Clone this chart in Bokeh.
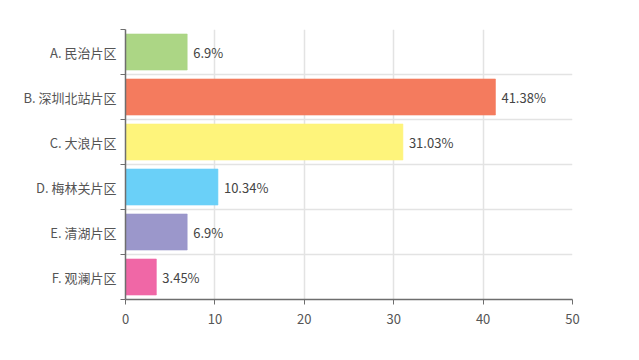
from bokeh.plotting import figure
from bokeh.models import ColumnDataSource, FixedTicker, Range1d
from bokeh.core.properties import value
from bokeh.embed import file_html
from bokeh.resources import INLINE

categories = ["A. 民治片区", "B. 深圳北站片区", "C. 大浪片区", "D. 梅林关片区", "E. 清湖片区", "F. 观澜片区"]
values = [6.9, 41.38, 31.03, 10.34, 6.9, 3.45]
colors = ["#acd685", "#f47b5e", "#fef47b", "#6ad0f8", "#9b97cb", "#f067a6"]
x_ticks = [0, 10, 20, 30, 40, 50]

n = len(categories)
ypos = list(range(n))
labels = [f"{v:g}%" for v in values]

src = ColumnDataSource(dict(y=ypos, v=values, c=colors, lab=labels))

FONT = "Noto Sans CJK SC"

p = figure(width=630, height=350, output_backend="svg", toolbar_location=None,
           x_range=Range1d(0, 50), y_range=Range1d(n - 0.5, -0.5),
           min_border_left=125, min_border_right=58, min_border_top=29, min_border_bottom=51)
p.outline_line_color = None
p.background_fill_color = "white"

p.hbar(y="y", right="v", left=0, height=0.8, fill_color="c", line_color="c",
       line_alpha=0.6, line_width=1, source=src)
p.text(x="v", y="y", text="lab", source=src, x_offset=6, text_baseline="middle",
       text_align="left", text_font=value(FONT), text_font_size="13px", text_color="#444444")

# x axis
p.xaxis.ticker = FixedTicker(ticks=x_ticks)
p.xaxis.axis_line_color = "#6e6e6e"
p.xaxis.axis_line_width = 1.5
p.xaxis.major_tick_line_color = "#6e6e6e"
p.xaxis.major_tick_out = 5
p.xaxis.major_tick_in = 0
p.xaxis.minor_tick_line_color = None
p.xaxis.major_label_text_font = FONT
p.xaxis.major_label_text_font_size = "13px"
p.xaxis.major_label_text_color = "#555555"
p.xaxis.major_label_standoff = 9

# y axis: labels at centers, ticks at boundaries
bounds = [i - 0.5 for i in range(n + 1)]
p.yaxis.ticker = FixedTicker(ticks=ypos, minor_ticks=bounds)
p.yaxis.major_label_overrides = {i: c for i, c in enumerate(categories)}
p.yaxis.major_tick_line_color = None
p.yaxis.minor_tick_line_color = "#6e6e6e"
p.yaxis.minor_tick_out = 5
p.yaxis.minor_tick_in = 0
p.yaxis.axis_line_color = "#6e6e6e"
p.yaxis.axis_line_width = 1.5
p.yaxis.major_label_text_font = FONT
p.yaxis.major_label_text_font_size = "13px"
p.yaxis.major_label_text_color = "#555555"
p.yaxis.major_label_standoff = 3

# grids
p.xgrid.grid_line_color = "#e3e3e3"
p.xgrid.grid_line_width = 1.5
p.ygrid.grid_line_color = None
p.ygrid.minor_grid_line_color = "#e3e3e3"
p.ygrid.minor_grid_line_width = 1.5

open("out.html", "w").write(file_html(p, INLINE))
